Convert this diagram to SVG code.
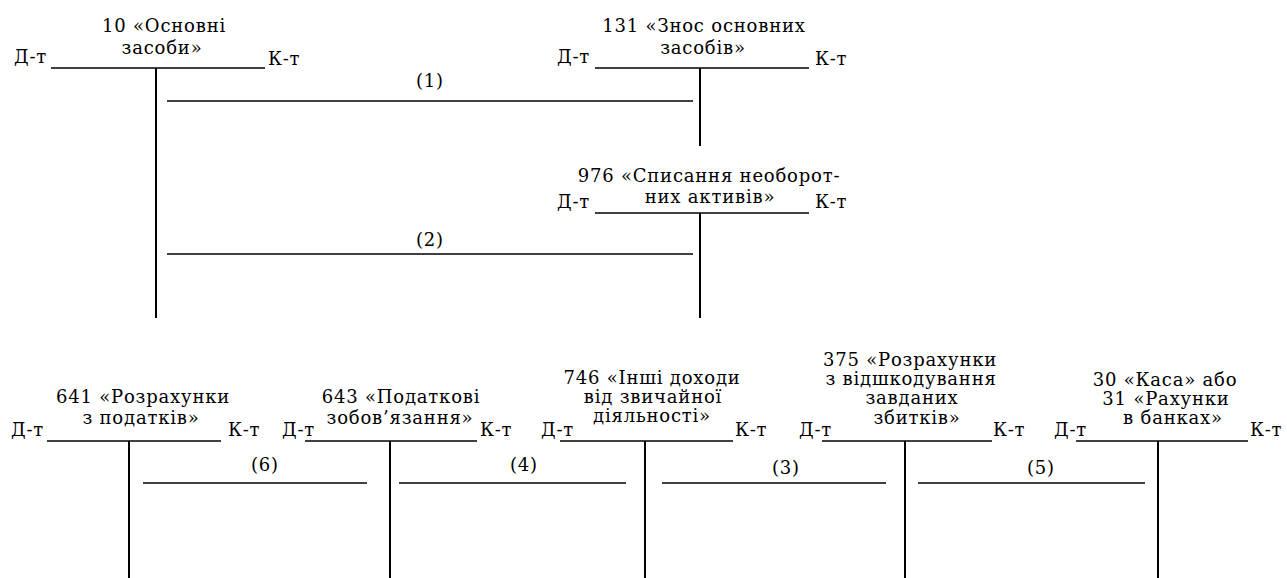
<svg xmlns="http://www.w3.org/2000/svg" width="1287" height="578" viewBox="0 0 1287 578">
<style>
text{font-family:'DejaVu Serif',serif;font-size:18px;fill:#000;letter-spacing:0.8px}
.t{text-anchor:middle}
.h{stroke:#000;stroke-width:1.6;fill:none}
.v{stroke:#000;stroke-width:2;fill:none}
.c{stroke:#000;stroke-width:1.6;fill:none}
</style>
<rect width="1287" height="578" fill="#fff"/>
<g id="acc10">
<text class="t" x="164" y="32">10 «Основні</text>
<text class="t" x="162" y="54">засоби»</text>
<text x="14" y="63">Д-т</text>
<text x="268" y="65">К-т</text>
<line class="h" x1="51" y1="68" x2="265" y2="68"/>
<line class="v" x1="156" y1="68" x2="156" y2="318"/>
</g>
<g id="acc131">
<text class="t" x="704" y="32">131 «Знос основних</text>
<text class="t" x="703" y="54">засобів»</text>
<text x="557" y="63">Д-т</text>
<text x="815" y="65">К-т</text>
<line class="h" x1="595" y1="68" x2="809" y2="68"/>
<line class="v" x1="700" y1="68" x2="700" y2="146"/>
</g>
<g id="acc976">
<text class="t" x="709" y="182">976 «Списання необорот-</text>
<text class="t" x="710" y="203">них активів»</text>
<text x="557" y="208">Д-т</text>
<text x="815" y="208">К-т</text>
<line class="h" x1="595" y1="213" x2="809" y2="213" stroke-width="2.5"/>
<line class="v" x1="700" y1="213" x2="700" y2="318"/>
</g>
<g id="acc641">
<text class="t" x="143" y="403">641 «Розрахунки</text>
<text class="t" x="141" y="424">з податків»</text>
<text x="11" y="436">Д-т</text>
<text x="228" y="436">К-т</text>
<line class="h" x1="47" y1="441" x2="221" y2="441"/>
<line class="v" x1="129" y1="441" x2="129" y2="578"/>
</g>
<g id="acc643">
<text class="t" x="401" y="403">643 «Податкові</text>
<text class="t" x="400" y="424">зобов’язання»</text>
<text x="282" y="436">Д-т</text>
<text x="480" y="436">К-т</text>
<line class="h" x1="305" y1="441" x2="477" y2="441"/>
<line class="v" x1="390" y1="441" x2="390" y2="578"/>
</g>
<g id="acc746">
<text class="t" x="652" y="384">746 «Інші доходи</text>
<text class="t" x="653" y="403">від звичайної</text>
<text class="t" x="652" y="422">діяльності»</text>
<text x="541" y="436">Д-т</text>
<text x="735" y="436">К-т</text>
<line class="h" x1="560" y1="441" x2="733" y2="441"/>
<line class="v" x1="645" y1="441" x2="645" y2="578"/>
</g>
<g id="acc375">
<text class="t" x="910" y="366">375 «Розрахунки</text>
<text class="t" x="911" y="385">з відшкодування</text>
<text class="t" x="912" y="404">завданих</text>
<text class="t" x="917" y="424">збитків»</text>
<text x="799" y="436">Д-т</text>
<text x="993" y="436">К-т</text>
<line class="h" x1="822" y1="441" x2="992" y2="441"/>
<line class="v" x1="905" y1="441" x2="905" y2="578"/>
</g>
<g id="acc30">
<text class="t" x="1165" y="386">30 «Каса» або</text>
<text class="t" x="1166" y="405">31 «Рахунки</text>
<text class="t" x="1173" y="424">в банках»</text>
<text x="1054" y="436">Д-т</text>
<text x="1250" y="436">К-т</text>
<line class="h" x1="1076" y1="441" x2="1248" y2="441"/>
<line class="v" x1="1158" y1="441" x2="1158" y2="578"/>
</g>
<g id="connectors">
<line class="c" x1="167" y1="101" x2="693" y2="101" stroke-width="2.5"/>
<text class="t" x="430" y="87">(1)</text>
<line class="c" x1="167" y1="254" x2="693" y2="254"/>
<text class="t" x="430" y="246">(2)</text>
<line class="c" x1="143" y1="483" x2="367" y2="483"/>
<text class="t" x="265" y="471">(6)</text>
<line class="c" x1="399" y1="483" x2="626" y2="483"/>
<text class="t" x="524" y="471">(4)</text>
<line class="c" x1="662" y1="483" x2="886" y2="483"/>
<text class="t" x="786" y="474">(3)</text>
<line class="c" x1="918" y1="483" x2="1145" y2="483"/>
<text class="t" x="1041" y="474">(5)</text>
</g>
</svg>
